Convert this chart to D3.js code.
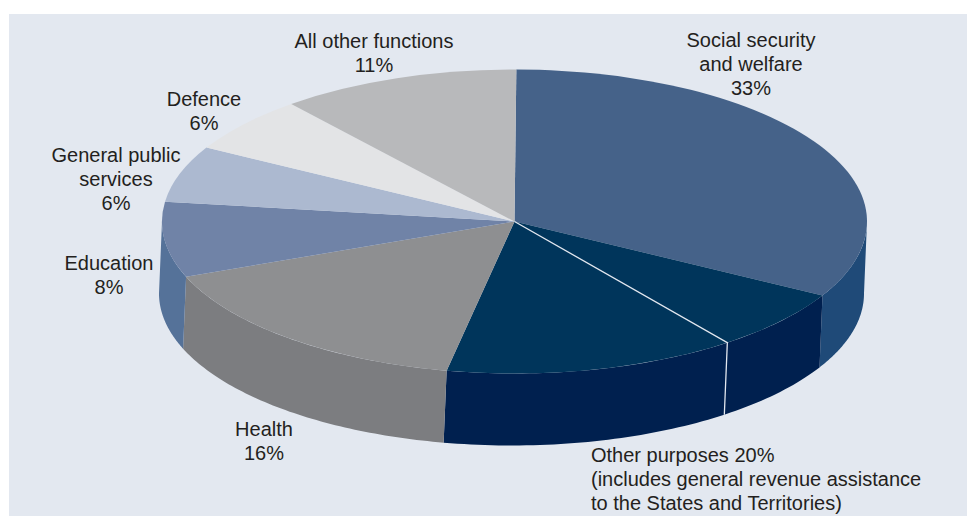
<!DOCTYPE html>
<html>
<head>
<meta charset="utf-8">
<style>
html, body { margin: 0; padding: 0; background: #fff; }
svg { display: block; }
text { font-family: "Liberation Sans", Arial, sans-serif; font-size: 20px; fill: #231f20; }
</style>
</head>
<body>
<svg id="chart" width="967" height="516"></svg>
<script src="https://cdn.jsdelivr.net/npm/d3@7"></script>
<script>
// Shares of spending by function, clockwise from the top of the pie.
const categories = ["Social security and welfare", "Other purposes", "Health", "Education",
  "General public services", "Defence", "All other functions"];
const shares = [33, 20, 16, 8, 6, 6, 11];
const topColors = ["#456289", "#00355b", "#8e8f91", "#7083a7", "#acb9d0", "#e3e4e6", "#b8b9bb"];
const sideColors = ["#1f4a78", "#00204f", "#7c7d80", "#557299", "#acb9d0", "#e3e4e6", "#b8b9bb"];
// Part of "Other purposes" lying before the white divider.
const otherPurposesBeforeDivider = 6.6;

const labelLines = [
  ["Social security", "and welfare", "33%"],
  ["Other purposes 20%", "(includes general revenue assistance", "to the States and Territories)"],
  ["Health", "16%"],
  ["Education", "8%"],
  ["General public", "services", "6%"],
  ["Defence", "6%"],
  ["All other functions", "11%"]
];
const labelAnchors = [
  [751, 47, "middle"], [591, 462, "start"], [264, 436, "middle"], [109, 270, "middle"],
  [116, 162, "middle"], [204, 106, "middle"], [374, 48, "middle"]
];
const lineHeight = 24;

const width = 967, height = 516;
const cx = 514.5, cy = 221.5, rx = 352.5, ry = 152;
const depth = 72, shiftX = -3;

const svg = d3.select("#chart");
svg.append("rect").attr("x", 9).attr("y", 14).attr("width", width - 9).attr("height", height - 14)
  .attr("fill", "#e3e8f0");

// Cumulative share maps directly onto the angle around the ellipse.
const startAngle = 0.3 * Math.PI / 180;
const angle = d3.scaleLinear().domain([0, 100]).range([startAngle, startAngle + 2 * Math.PI]);
const slices = d3.pie().sort(null).value(d => d)
  .startAngle(startAngle).endAngle(startAngle + 2 * Math.PI)(shares);

const px = a => cx + rx * Math.sin(a);
const py = a => cy - ry * Math.cos(a);

// Outer wall: only the stretch facing the viewer is visible.
const wall = (a0, a1) => {
  const from = Math.max(a0, Math.PI / 2), to = Math.min(a1, 3 * Math.PI / 2);
  if (to <= from) return null;
  const steps = d3.range(0, 65).map(i => from + (to - from) * i / 64);
  const top = steps.map(a => [px(a), py(a)]);
  const bottom = steps.slice().reverse().map(a => [px(a) + shiftX, py(a) + depth]);
  return d3.line()(top.concat(bottom)) + "Z";
};

const g = svg.append("g");
g.selectAll("path.wall").data(slices).join("path").attr("class", "wall")
  .attr("d", d => wall(d.startAngle, d.endAngle))
  .attr("fill", (d, i) => sideColors[i]);

// Flat top face: a circular d3.arc squashed into an ellipse.
const arc = d3.arc().innerRadius(0).outerRadius(rx);
g.append("g").attr("transform", `translate(${cx},${cy}) scale(1,${ry / rx})`)
  .selectAll("path").data(slices).join("path")
  .attr("d", arc).attr("fill", (d, i) => topColors[i]);

// White divider across the top face and down the wall.
const dividerAngle = angle(shares[0] + otherPurposesBeforeDivider);
const divider = [[cx, cy], [px(dividerAngle), py(dividerAngle)],
  [px(dividerAngle) + shiftX, py(dividerAngle) + depth]];
g.append("path").attr("d", d3.line()(divider)).attr("fill", "none")
  .attr("stroke", "#e3e8f0").attr("stroke-width", 1.3);

// Category labels.
const labels = svg.append("g").selectAll("text").data(labelLines).join("text")
  .attr("x", (d, i) => labelAnchors[i][0])
  .attr("y", (d, i) => labelAnchors[i][1])
  .attr("text-anchor", (d, i) => labelAnchors[i][2]);
labels.selectAll("tspan").data(d => d).join("tspan")
  .attr("x", function () { return this.parentNode.getAttribute("x"); })
  .attr("dy", (d, i) => i ? lineHeight : 0)
  .text(d => d);
</script>
</body>
</html>
